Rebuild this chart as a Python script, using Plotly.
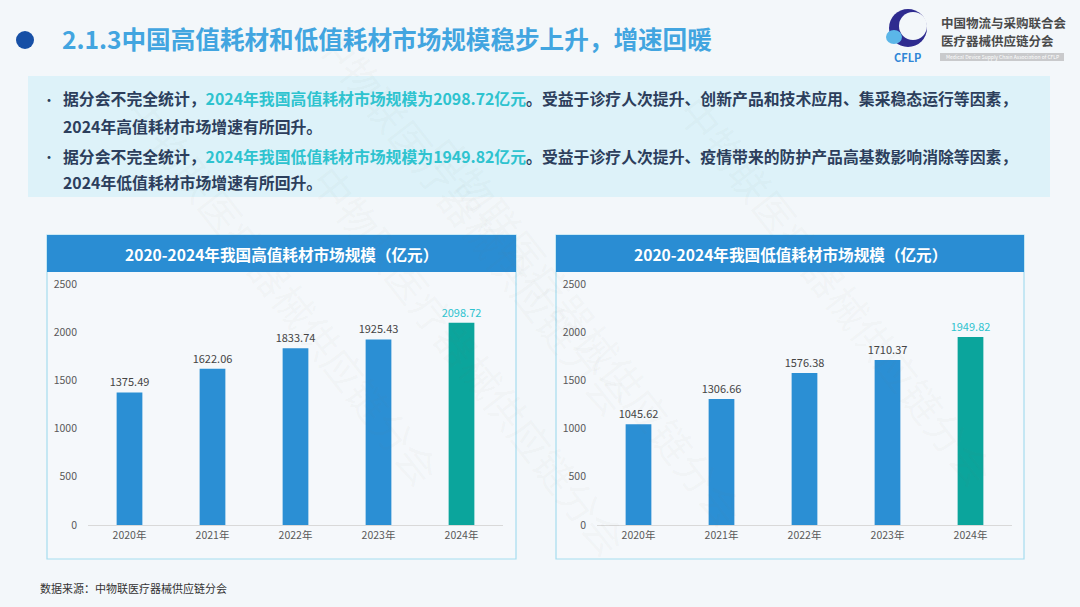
import plotly.graph_objects as go

W, H = 1080, 607

years = ["2020年", "2021年", "2022年", "2023年", "2024年"]
high_value = [1375.49, 1622.06, 1833.74, 1925.43, 2098.72]
low_value = [1045.62, 1306.66, 1576.38, 1710.37, 1949.82]
y_ticks = [0, 500, 1000, 1500, 2000, 2500]

title = "2.1.3中国高值耗材和低值耗材市场规模稳步上升，增速回暖"
left_title = "2020-2024年我国高值耗材市场规模（亿元）"
right_title = "2020-2024年我国低值耗材市场规模（亿元）"
source = "数据来源：中物联医疗器械供应链分会"

BLUE = "#2B8FD4"
TEAL = "#0BA59C"
CYAN_TXT = "#2EC3CF"
FONT = "Noto Sans CJK SC"


def X(px):
    return px / W


def Y(py):
    return 1 - py / H


bar_colors = [BLUE] * 4 + [TEAL]
label_colors = ["#444444"] * 4 + [CYAN_TXT]

fig = go.Figure()
for vals, xa, ya in [(high_value, "x", "y"), (low_value, "x2", "y2")]:
    fig.add_trace(go.Bar(
        x=years, y=vals, xaxis=xa, yaxis=ya,
        marker=dict(color=bar_colors, line=dict(width=0)),
        text=[f"{v:.2f}" for v in vals],
        textposition="outside",
        constraintext="none",
        textfont=dict(size=11, color=label_colors, family=FONT),
        cliponaxis=False,
        hoverinfo="skip",
    ))

axis_common = dict(showgrid=False, zeroline=False, fixedrange=True, automargin=False)
fig.update_layout(
    width=W, height=H,
    margin=dict(l=0, r=0, t=0, b=0, pad=0),
    paper_bgcolor="#F3F7FA",
    plot_bgcolor="rgba(0,0,0,0)",
    showlegend=False,
    bargap=0.69,
    font=dict(family=FONT),
    xaxis=dict(domain=[X(88), X(503)], anchor="y", showline=True, linecolor="#D9D9D9",
               linewidth=1, ticks="", tickfont=dict(size=10.5, color="#595959"), **axis_common),
    yaxis=dict(domain=[Y(525), Y(284)], anchor="x", range=[0, 2500], tickvals=y_ticks,
               showline=False, ticklabelstandoff=10, tickfont=dict(size=10.5, color="#595959"),
               **axis_common),
    xaxis2=dict(domain=[X(597), X(1012)], anchor="y2", showline=True, linecolor="#D9D9D9",
                linewidth=1, ticks="", tickfont=dict(size=10.5, color="#595959"), **axis_common),
    yaxis2=dict(domain=[Y(525), Y(284)], anchor="x2", range=[0, 2500], tickvals=y_ticks,
                showline=False, ticklabelstandoff=10, tickfont=dict(size=10.5, color="#595959"),
                **axis_common),
)

shapes = []
# text box
shapes.append(dict(type="rect", xref="paper", yref="paper", layer="below",
                   x0=X(28), x1=X(1050), y0=Y(197), y1=Y(76),
                   fillcolor="#DDF2F9", line=dict(width=0)))
# chart panels
for x0, x1 in [(47, 516), (556, 1024)]:
    shapes.append(dict(type="rect", xref="paper", yref="paper", layer="below",
                       x0=X(x0), x1=X(x1), y0=Y(559), y1=Y(235),
                       fillcolor="#F5F8FB", line=dict(color="#A6DDEF", width=1.2)))
    shapes.append(dict(type="rect", xref="paper", yref="paper", layer="below",
                       x0=X(x0), x1=X(x1), y0=Y(272), y1=Y(235),
                       fillcolor="#2A8DD3", line=dict(width=0)))
# title dot
shapes.append(dict(type="circle", xref="paper", yref="paper",
                   x0=X(16), x1=X(34), y0=Y(49), y1=Y(31),
                   fillcolor="#1750A6", line=dict(width=0)))
# logo
shapes.append(dict(type="circle", xref="paper", yref="paper",
                   x0=X(889), x1=X(927), y0=Y(47), y1=Y(9),
                   fillcolor="#2E2B8F", line=dict(width=0)))
shapes.append(dict(type="circle", xref="paper", yref="paper",
                   x0=X(899), x1=X(927), y0=Y(40), y1=Y(12),
                   fillcolor="#F3F7FA", line=dict(width=0)))
shapes.append(dict(type="circle", xref="paper", yref="paper",
                   x0=X(886), x1=X(902), y0=Y(44), y1=Y(30),
                   fillcolor="#5BB6E8", line=dict(width=0)))
shapes.append(dict(type="rect", xref="paper", yref="paper",
                   x0=X(940), x1=X(1064), y0=Y(61), y1=Y(53),
                   fillcolor="#C9CACC", line=dict(width=0)))
fig.update_layout(shapes=shapes)

ann = []


def txt(x, y, s, size, color, xanchor="left", bold=False, **kw):
    ann.append(dict(xref="paper", yref="paper", x=X(x), y=Y(y), text=f"<b>{s}</b>" if bold else s,
                    showarrow=False, xanchor=xanchor, yanchor="middle",
                    font=dict(size=size, color=color, family=FONT), **kw))


# watermark
for wx, wy in [(300, 430), (470, 150), (760, 330), (110, 80), (1010, 500)]:
    ann.append(dict(xref="paper", yref="paper", x=X(wx), y=Y(wy), text="中物联医疗器械供应链分会",
                    showarrow=False, textangle=52,
                    font=dict(size=40, color="rgba(120,120,120,0.045)", family=FONT)))

txt(60, 38, title, 24.6, "#42A5E0", bold=True)

hl = f"<span style='color:{CYAN_TXT}'>"
lines = [
    (99, True, f"据分会不完全统计，{hl}2024年我国高值耗材市场规模为2098.72亿元</span>。受益于诊疗人次提升、创新产品和技术应用、集采稳态运行等因素，"),
    (126, False, "2024年高值耗材市场增速有所回升。"),
    (156, True, f"据分会不完全统计，{hl}2024年我国低值耗材市场规模为1949.82亿元</span>。受益于诊疗人次提升、疫情带来的防护产品高基数影响消除等因素，"),
    (183, False, "2024年低值耗材市场增速有所回升。"),
]
for y, bullet, s in lines:
    if bullet:
        txt(40, y, "•", 14, "#2C3E5C")
    txt(61, y, s, 15.85, "#2C3E5C", bold=True)

txt((47 + 516) / 2, 254, left_title, 15.6, "white", xanchor="center", bold=True)
txt((556 + 1024) / 2, 254, right_title, 15.6, "white", xanchor="center", bold=True)

txt(38, 588, source, 11, "#333333")

txt(939, 22, "中国物流与采购联合会", 12.5, "#4A4A4A", bold=True)
txt(939, 41, "医疗器械供应链分会", 12.5, "#4A4A4A", bold=True)
txt(907, 57, "CFLP", 11, "#2F86D6", xanchor="center", bold=True)
txt(1002, 57, "Medical Device Supply Chain Association of CFLP", 5, "white", xanchor="center")

fig.update_layout(annotations=ann)

fig.write_html("out.html", config={"displayModeBar": False},
               post_script="document.body.style.margin='0';document.body.style.overflow='hidden';")
